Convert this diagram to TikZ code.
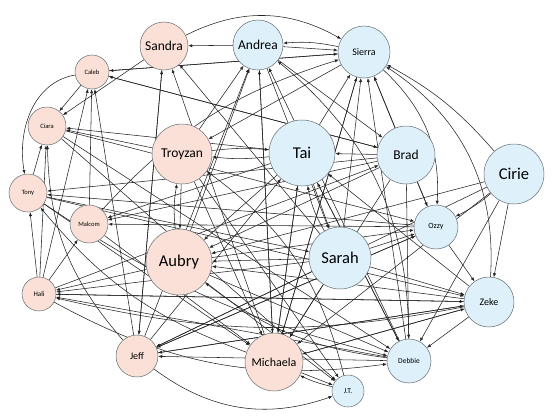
\documentclass[tikz,border=0pt]{standalone}
\usepackage{fontspec}
\setmainfont{Carlito}
\usepackage{tikz}
\usetikzlibrary{arrows.meta, positioning, backgrounds}

\definecolor{peachfill}{RGB}{250,224,214}
\definecolor{skyfill}{RGB}{222,241,250}
\definecolor{rimgray}{RGB}{100,108,114}
\definecolor{linkgray}{RGB}{35,35,35}

\tikzset{
  person/.style={circle, draw=rimgray, line width=0.5pt, inner sep=0pt, text=black},
  pinkp/.style={person, fill=peachfill},
  bluep/.style={person, fill=skyfill},
  link/.style={-{Latex[length=4pt,width=3.2pt]}, draw=linkgray, line width=0.55pt},
  big/.style={font=\fontsize{16.5}{16.5}\selectfont},
  mid/.style={font=\fontsize{13.5}{13.5}\selectfont},
  sml/.style={font=\fontsize{10}{10}\selectfont},
  tiny/.style={font=\fontsize{6.5}{6.5}\selectfont}
}

\begin{document}
\begin{tikzpicture}[x=1pt, y=-1pt]
    \useasboundingbox (0,0) rectangle (554,415);
    % castaways - pink side
    \node[pinkp, mid, minimum size=48pt] (sandra) at (164,46) {Sandra};
    \node[pinkp, tiny, minimum size=34pt] (caleb) at (92,72) {Caleb};
    \node[pinkp, tiny, minimum size=38pt] (ciara) at (47,126) {Ciara};
    \node[pinkp, mid, minimum size=60pt] (troyzan) at (182,154) {Troyzan};
    \node[pinkp, tiny, minimum size=38pt] (tony) at (28,193) {Tony};
    \node[pinkp, tiny, minimum size=38pt] (malcom) at (89,224) {Malcom};
    \node[pinkp, big, minimum size=66pt] (aubry) at (179,262) {Aubry};
    \node[pinkp, font=\fontsize{7}{7}\selectfont, minimum size=34pt] (hali) at (39,294) {Hali};
    \node[pinkp, sml, minimum size=42pt] (jeff) at (137,356) {Jeff};
    \node[pinkp, font=\fontsize{12}{12}\selectfont, minimum size=58pt] (michaela) at (274,362) {Michaela};

    % castaways - blue side
    \node[bluep, mid, minimum size=50pt] (andrea) at (258,45) {Andrea};
    \node[bluep, sml, minimum size=52pt] (sierra) at (364,52) {Sierra};
    \node[bluep, big, minimum size=66pt] (tai) at (302,153) {Tai};
    \node[bluep, mid, minimum size=58pt] (brad) at (406,155) {Brad};
    \node[bluep, big, minimum size=60pt] (cirie) at (514,174) {Cirie};
    \node[bluep, big, minimum size=62pt] (sarah) at (340,258) {Sarah};
    \node[bluep, font=\fontsize{8}{8}\selectfont, minimum size=44pt] (ozzy) at (436,227) {Ozzy};
    \node[bluep, sml, minimum size=50pt] (zeke) at (489,302) {Zeke};
    \node[bluep, font=\fontsize{7.5}{7.5}\selectfont, minimum size=44pt] (debbie) at (409,361) {Debbie};
    \node[bluep, font=\fontsize{7.5}{7.5}\selectfont, minimum size=32pt] (jt) at (348,391) {J.T.};

    \begin{pgfonlayer}{background}
    % straight links
    \foreach \a/\b in {andrea/sandra, andrea/sierra, caleb/ciara, sandra/ciara, tony/ciara,
        hali/ciara, hali/tony, malcom/caleb, hali/caleb, troyzan/andrea, brad/tai,
        brad/ozzy, cirie/zeke, cirie/debbie, zeke/debbie, ozzy/zeke, sarah/michaela,
        michaela/jt, sarah/ozzy, sarah/zeke, zeke/hali, debbie/hali, sarah/hali,
        zeke/jeff, sarah/jeff, debbie/jeff, ozzy/jeff, tai/aubry, sarah/aubry,
        zeke/aubry, brad/aubry, tai/michaela, andrea/michaela, sierra/michaela,
        cirie/michaela, zeke/michaela, aubry/andrea, michaela/andrea, jeff/andrea,
        tai/sierra, brad/sierra, michaela/sierra, sarah/sierra, andrea/brad,
        andrea/sarah, ciara/debbie, sierra/caleb, brad/caleb, tai/ciara,
        troyzan/ciara, ozzy/tony, brad/tony, ozzy/malcom, tai/malcom, brad/malcom,
        aubry/hali, aubry/debbie, aubry/jt, jeff/zeke, hali/zeke, michaela/zeke,
        jeff/ozzy, hali/malcom, cirie/jeff, cirie/aubry, debbie/tai, zeke/tai,
        ozzy/sierra, debbie/sierra, michaela/tai, jeff/tai, aubry/ozzy, tony/sarah,
        ciara/ozzy, caleb/brad, hali/brad, debbie/andrea, brad/michaela, brad/debbie,
        tai/debbie, troyzan/michaela, troyzan/jt, malcom/michaela, tony/michaela,
        ciara/jt, michaela/sandra, jeff/sandra, sarah/sandra, sierra/troyzan,
        troyzan/aubry, tai/sarah, jeff/caleb, tony/zeke, caleb/sierra, sandra/jeff}
        \draw[link] (\a) -- (\b);

    % curved links
    \draw[link] (sandra) to[bend left=28] (sierra);
    \draw[link] (sierra) to[bend right=8] (andrea);
    \draw[link] (caleb) to[out=190, in=100] (tony);
    \draw[link] (tai) to[bend left=6] (troyzan);
    \draw[link] (troyzan) to[bend left=6] (tai);
    \draw[link] (sierra) to[bend left=25] (ozzy);
    \draw[link] (cirie) to[bend right=10] (sierra);
    \draw[link] (cirie) to[bend left=6] (ozzy);
    \draw[link] (jt) to[bend left=6] (michaela);
    \draw[link] (jeff) to[bend right=28] (jt);
    \draw[link] (zeke) to[bend right=30] (sierra);
    \draw[link] (aubry) to[bend left=8] (troyzan);
    \draw[link] (sarah) to[bend left=10] (tai);
    \draw[link] (debbie) to[bend right=25] (andrea);
    \draw[link] (hali) to[bend right=18] (debbie);
    \draw[link] (zeke) to[bend left=12] (hali);
    \draw[link] (jeff) to[bend left=20] (ciara);
    \draw[link] (tony) to[bend right=10] (debbie);
    \draw[link] (malcom) to[bend left=15] (sierra);
    \draw[link] (michaela) to[bend left=15] (tony);
    \draw[link] (jt) to[bend right=20] (troyzan);
    \draw[link] (debbie) to[bend left=15] (aubry);
    \end{pgfonlayer}
\end{tikzpicture}
\end{document}
